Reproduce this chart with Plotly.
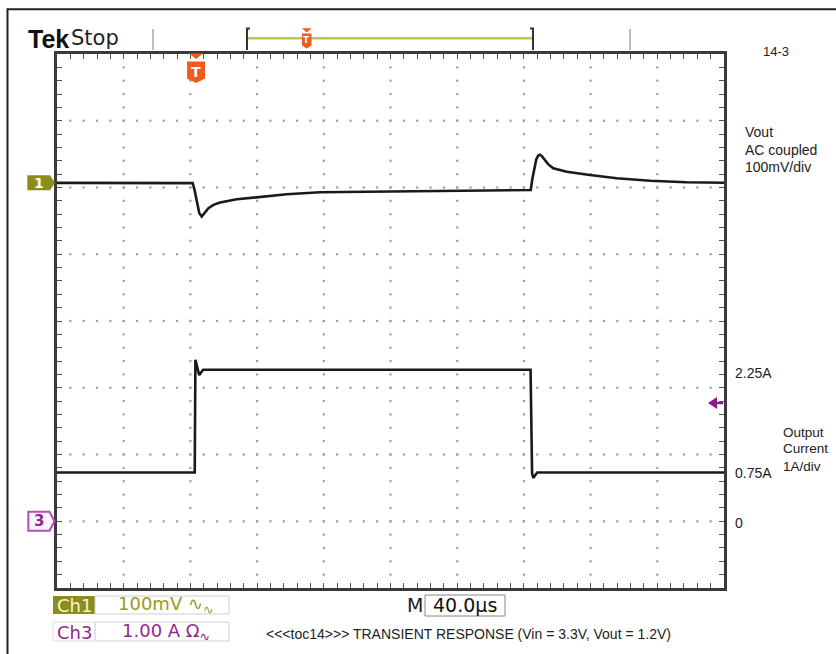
import numpy as np
import plotly.graph_objects as go

# ---------------- data ----------------
# time in microseconds across the 10-division screen (40 us/div)
vout_t = [0, 81.4, 82.5, 84.1, 85.3, 86.8, 88.8, 90.8, 93.8, 97.8, 107.8, 121.7, 137.8,
          157.7, 187.7, 220.0, 255.0, 284.1, 285.0, 286.2, 287.4, 288.6, 289.6, 290.8,
          292.5, 294.5, 297.6, 305.7, 319.6, 335.7, 355.7, 377.6, 400.0]
vout_mv = [0, -0.5, -11, -31, -45, -50.5, -45, -38, -33, -29.5, -24.7, -20.8, -17.2,
           -14.2, -13.3, -12.0, -11.5, -10.7, 5, 22, 35, 41, 42, 40,
           35, 28, 21.8, 16.7, 11.7, 6.8, 3.2, 0.8, 0.2]

iout_t = [0, 82.6, 83.0, 83.6, 85.3, 87.6, 284.0, 284.9, 285.6, 288.0, 400.0]
iout_a = [0.73, 0.73, 2.42, 2.36, 2.19, 2.27, 2.27, 0.72, 0.65, 0.73, 0.73]

trigger_t = 83.4

right_vout_lines = ["Vout", "AC coupled", "100mV/div"]
right_iout_lines = ["Output", "Current", "1A/div"]
level_labels = ["2.25A", "0.75A", "0"]
level_values = [2.25, 0.75, 0.0]
caption = "<<<toc14>>> TRANSIENT RESPONSE (Vin = 3.3V, Vout = 1.2V)"
fig_id = "14-3"

# ---------------- screen geometry ----------------
W, H = 836, 654
L, R, T, B = 57, 724, 54, 588
PW, PH = R - L, B - T
X_RANGE = [0, 400]            # 10 div * 40 us
V_RANGE = [-607, 193]         # 8 div * 100 mV, ch1 ground 2.07 div above centre
I_RANGE = [-1, 7]             # 8 div * 1 A, ch3 ground 3 div below centre

OLIVE = "#8c8c1e"
OLIVE_TXT = "#9a9a1c"
PURPLE = "#93278f"
ORANGE = "#f25a1a"
TRACE = "#1a1a1a"


def px(x):
    return (x - L) / PW


def py(y):
    return (B - y) / PH


def path(points, close=True):
    s = "M " + " L ".join(f"{px(x):.5f},{py(y):.5f}" for x, y in points)
    return s + (" Z" if close else "")


fig = go.Figure()

# dotted graticule (5 dots per division)
gx, gy = [], []
for k in range(1, 10):
    for j in range(1, 40):
        gx.append(40 * k)
        gy.append(V_RANGE[0] + 20 * j)
for m in range(1, 8):
    for i in range(1, 50):
        gx.append(8 * i)
        gy.append(V_RANGE[0] + 100 * m)
fig.add_trace(go.Scatter(x=gx, y=gy, mode="markers", hoverinfo="skip",
                         marker=dict(symbol="square", size=2.2, color="#a0a0a0"),
                         showlegend=False))

fig.add_trace(go.Scatter(x=vout_t, y=vout_mv, mode="lines", name="Vout",
                         line=dict(color=TRACE, width=2.6), showlegend=False))
fig.add_trace(go.Scatter(x=iout_t, y=iout_a, mode="lines", name="Iout", yaxis="y2",
                         line=dict(color=TRACE, width=2.6), showlegend=False))

tick_common = dict(ticks="inside", ticklen=5, tickwidth=1.3, tickcolor="#555")
fig.update_layout(
    width=W, height=H,
    margin=dict(l=L, r=W - R, t=T, b=H - B),
    paper_bgcolor="white", plot_bgcolor="white",
    xaxis=dict(range=X_RANGE, showgrid=False, zeroline=False, showticklabels=False,
               showline=True, linewidth=3, linecolor="#3a3a3a", mirror="allticks",
               tick0=0, dtick=40, minor=dict(dtick=8, **tick_common), **tick_common),
    yaxis=dict(range=V_RANGE, showgrid=False, zeroline=False, showticklabels=False,
               showline=True, linewidth=3, linecolor="#3a3a3a", mirror="allticks",
               tick0=-7, dtick=100, minor=dict(tick0=-7, dtick=20, **tick_common),
               **tick_common),
    yaxis2=dict(range=I_RANGE, overlaying="y", visible=False),
)

shapes = []
# outer picture border
shapes.append(dict(type="path", xref="paper", yref="paper",
                   path=path([(7.5, 700), (7.5, 9.3), (900, 9.3)], close=False),
                   line=dict(color="#222", width=2)))
# header ticks
for xx in (153, 630):
    shapes.append(dict(type="line", xref="paper", yref="paper",
                       x0=px(xx), x1=px(xx), y0=py(29), y1=py(50),
                       line=dict(color="#aaaaaa", width=1.5)))
# olive record bar and brackets
shapes.append(dict(type="line", xref="paper", yref="paper",
                   x0=px(247), x1=px(533), y0=py(38.3), y1=py(38.3),
                   line=dict(color="#c2c257", width=2.5)))
shapes.append(dict(type="path", xref="paper", yref="paper",
                   path=path([(250, 28.5), (247, 28.5), (247, 50)], close=False),
                   line=dict(color="#333", width=2)))
shapes.append(dict(type="path", xref="paper", yref="paper",
                   path=path([(530, 28.5), (533, 28.5), (533, 50)], close=False),
                   line=dict(color="#333", width=2)))
# small trigger marker in header
shapes.append(dict(type="path", xref="paper", yref="paper",
                   path=path([(302, 28.3), (311.5, 28.3), (306.7, 32.5)]),
                   fillcolor=ORANGE, line=dict(width=0)))
shapes.append(dict(type="path", xref="paper", yref="paper",
                   path=path([(302, 33.5), (311.5, 33.5), (311.5, 45.5), (306.7, 48.5), (302, 45.5)]),
                   fillcolor=ORANGE, line=dict(width=0)))
# main trigger position marker
tx = L + trigger_t / 400 * PW
shapes.append(dict(type="path", xref="paper", yref="paper",
                   path=path([(tx - 7, 53.5), (tx + 7, 53.5), (tx, 59)]),
                   fillcolor=ORANGE, line=dict(width=0)))
shapes.append(dict(type="path", xref="paper", yref="paper",
                   path=path([(tx - 9, 61.5), (tx + 9, 61.5), (tx + 9, 78.5), (tx, 83), (tx - 9, 78.5)]),
                   fillcolor=ORANGE, line=dict(width=0)))
# channel markers
y1 = T + (V_RANGE[1] - 0) / (V_RANGE[1] - V_RANGE[0]) * PH
y3 = T + (I_RANGE[1] - 0) / (I_RANGE[1] - I_RANGE[0]) * PH
shapes.append(dict(type="path", xref="paper", yref="paper",
                   path=path([(27.3, y1 - 7.5), (50, y1 - 7.5), (55, y1), (50, y1 + 7.5), (27.3, y1 + 7.5)]),
                   fillcolor=OLIVE, line=dict(width=0)))
shapes.append(dict(type="path", xref="paper", yref="paper",
                   path=path([(28.3, y3 - 9.5), (49.5, y3 - 9.5), (54.5, y3), (49.5, y3 + 9.5), (28.3, y3 + 9.5)]),
                   fillcolor="#fbf3fb", line=dict(color="#b050b0", width=2)))
# trigger level arrow
shapes.append(dict(type="path", xref="paper", yref="paper",
                   path=path([(708, 403), (717, 397), (717, 409)]),
                   fillcolor="#8b1a8b", line=dict(width=0)))
shapes.append(dict(type="line", xref="paper", yref="paper",
                   x0=px(716), x1=px(723), y0=py(403), y1=py(403),
                   line=dict(color="#8b1a8b", width=2.5)))
# bottom readout boxes
shapes.append(dict(type="rect", xref="paper", yref="paper",
                   x0=px(53), x1=px(95), y0=py(614), y1=py(596),
                   fillcolor=OLIVE, line=dict(width=0)))
for (yt, yb) in ((596, 614), (622, 641)):
    shapes.append(dict(type="rect", xref="paper", yref="paper",
                       x0=px(95), x1=px(229), y0=py(yb), y1=py(yt),
                       line=dict(color="#cfcfcf", width=1)))
shapes.append(dict(type="rect", xref="paper", yref="paper",
                   x0=px(53), x1=px(95), y0=py(641), y1=py(622),
                   line=dict(color="#dddddd", width=1)))
shapes.append(dict(type="rect", xref="paper", yref="paper",
                   x0=px(425), x1=px(505), y0=py(616), y1=py(595),
                   line=dict(color="#888", width=1)))
fig.update_layout(shapes=shapes)


def ann(x, y, text, size=14, color="#222", family="Liberation Sans", xanchor="left", bold=False):
    if bold:
        text = f"<b>{text}</b>"
    fig.add_annotation(x=px(x), y=py(y), xref="paper", yref="paper", text=text,
                       showarrow=False, xanchor=xanchor, yanchor="middle",
                       font=dict(size=size, color=color, family=family), borderpad=0)


ann(27, 39, "Tek", size=25, color="#111", family="Liberation Sans", bold=True)
ann(70, 38, "Stop", size=21, color="#222", family="DejaVu Sans")
ann(762, 52, fig_id, size=13)
for i, line in enumerate(right_vout_lines):
    ann(744, 132 + 17.5 * i, line, size=14)
for i, line in enumerate(right_iout_lines):
    ann(782, 432 + 17 * i, line, size=13.5)
for lab, val in zip(level_labels, level_values):
    yy = T + (I_RANGE[1] - val) / (I_RANGE[1] - I_RANGE[0]) * PH
    ann(734, yy + 1.5, lab, size=14)

# markers text
ann(tx, 71.5, "T", size=14, color="white", family="DejaVu Sans", xanchor="center", bold=True)
ann(306.7, 40, "T", size=9, color="white", family="DejaVu Sans", xanchor="center", bold=True)
ann(39, y1, "1", size=14, color="white", family="DejaVu Sans", xanchor="center", bold=True)
ann(39, y3, "3", size=15, color=PURPLE, family="DejaVu Sans", xanchor="center", bold=True)

# bottom readouts
ann(74, 605, "Ch1", size=18, color="#f6f2cc", family="DejaVu Sans", xanchor="center")
ann(117, 605, "100mV ∿<sub>∿</sub>", size=18, color=OLIVE_TXT, family="DejaVu Sans")
ann(74, 632, "Ch3", size=18, color=PURPLE, family="DejaVu Sans", xanchor="center")
ann(121, 632, "1.00 A Ω<sub>∿</sub>", size=18, color=PURPLE, family="DejaVu Sans")
ann(424, 605, "M", size=19, color="#222", family="DejaVu Sans", xanchor="right")
ann(465, 605, "40.0µs", size=19, color="#111", family="DejaVu Sans", xanchor="center")
ann(265, 634, caption, size=14, color="#222")

fig.write_html("out.html", config={"displayModeBar": False},
               post_script="document.body.style.margin='0px';document.body.style.padding='0px';")
